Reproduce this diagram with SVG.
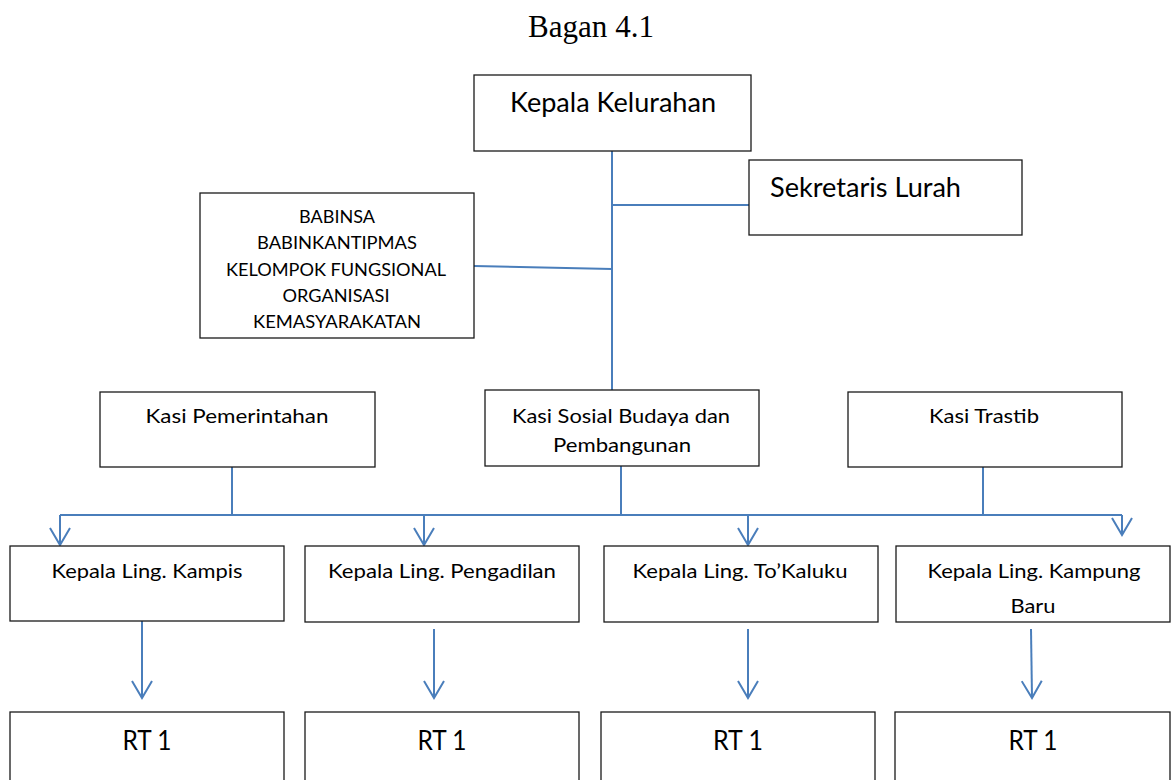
<svg xmlns="http://www.w3.org/2000/svg" width="1171" height="780" viewBox="0 0 1171 780">
<style>
.box{fill:#fff;stroke:#1a1a1a;stroke-width:1.3}
.t{font-family:Lato,"Liberation Sans",sans-serif;fill:#000;text-anchor:middle}
.lg{font-size:26px}
.md{font-size:19px}
.sm{font-size:16.5px}
.con{fill:none;stroke:#4a7ebb;stroke-width:2}
</style>
<defs>
<marker id="arr" markerUnits="userSpaceOnUse" viewBox="0 0 20 22" refX="18" refY="11" markerWidth="20" markerHeight="22" orient="auto">
<path d="M1,1 L18,11 L1,21" fill="none" stroke="#4a7ebb" stroke-width="2"/>
</marker>
</defs>
<rect width="1171" height="780" fill="#fff"/>
<text x="591" y="37" font-family="Liberation Serif,serif" font-size="31" text-anchor="middle" textLength="126" lengthAdjust="spacingAndGlyphs">Bagan 4.1</text>

<g id="connectors">
<path class="con" d="M612 151 V390"/>
<path class="con" d="M612 205 H749"/>
<path class="con" d="M474 266 L612 269"/>
<path class="con" d="M232 467 V515"/>
<path class="con" d="M621 466 V515"/>
<path class="con" d="M983 467 V515"/>
<path class="con" d="M60 515 H1122"/>
<path class="con" d="M60 515 V545" marker-end="url(#arr)"/>
<path class="con" d="M424 515 V545" marker-end="url(#arr)"/>
<path class="con" d="M748 515 V545" marker-end="url(#arr)"/>
<path class="con" d="M1122 515 V535" marker-end="url(#arr)"/>
<path class="con" d="M142 621 V698" marker-end="url(#arr)"/>
<path class="con" d="M434 629 V698" marker-end="url(#arr)"/>
<path class="con" d="M748 629 V698" marker-end="url(#arr)"/>
<path class="con" d="M1031 629 L1032 698" marker-end="url(#arr)"/>
</g>

<g id="kepala-kelurahan">
<rect class="box" x="474" y="75" width="277" height="76"/>
<text class="t lg" x="613" y="112" textLength="206" lengthAdjust="spacingAndGlyphs">Kepala Kelurahan</text>
</g>
<g id="sekretaris-lurah">
<rect class="box" x="749" y="160" width="273" height="75"/>
<text class="t lg" x="770" y="197" style="text-anchor:start" textLength="191" lengthAdjust="spacingAndGlyphs">Sekretaris Lurah</text>
</g>
<g id="babinsa">
<rect class="box" x="200" y="193" width="274" height="145"/>
<text class="t sm" x="337" y="223" textLength="76" lengthAdjust="spacingAndGlyphs">BABINSA</text>
<text class="t sm" x="337" y="249" textLength="160" lengthAdjust="spacingAndGlyphs">BABINKANTIPMAS</text>
<text class="t sm" x="336" y="276" textLength="220" lengthAdjust="spacingAndGlyphs">KELOMPOK FUNGSIONAL</text>
<text class="t sm" x="336" y="302" textLength="107" lengthAdjust="spacingAndGlyphs">ORGANISASI</text>
<text class="t sm" x="337" y="328" textLength="168" lengthAdjust="spacingAndGlyphs">KEMASYARAKATAN</text>
</g>
<g id="kasi-pemerintahan">
<rect class="box" x="100" y="392" width="275" height="75"/>
<text class="t md" x="237" y="423" textLength="183" lengthAdjust="spacingAndGlyphs">Kasi Pemerintahan</text>
</g>
<g id="kasi-sosial">
<rect class="box" x="485" y="390" width="274" height="76"/>
<text class="t md" x="621" y="423" textLength="218" lengthAdjust="spacingAndGlyphs">Kasi Sosial Budaya dan</text>
<text class="t md" x="622" y="452" textLength="138" lengthAdjust="spacingAndGlyphs">Pembangunan</text>
</g>
<g id="kasi-trastib">
<rect class="box" x="848" y="392" width="274" height="75"/>
<text class="t md" x="984" y="423" textLength="110" lengthAdjust="spacingAndGlyphs">Kasi Trastib</text>
</g>
<g id="ling-kampis">
<rect class="box" x="10" y="546" width="274" height="75"/>
<text class="t md" x="147" y="578" textLength="191" lengthAdjust="spacingAndGlyphs">Kepala Ling. Kampis</text>
</g>
<g id="ling-pengadilan">
<rect class="box" x="305" y="546" width="274" height="76"/>
<text class="t md" x="442" y="578" textLength="228" lengthAdjust="spacingAndGlyphs">Kepala Ling. Pengadilan</text>
</g>
<g id="ling-tokaluku">
<rect class="box" x="604" y="546" width="274" height="76"/>
<text class="t md" x="740" y="578" textLength="215" lengthAdjust="spacingAndGlyphs">Kepala Ling. To’Kaluku</text>
</g>
<g id="ling-kampung-baru">
<rect class="box" x="896" y="546" width="274" height="76"/>
<text class="t md" x="1034" y="578" textLength="213" lengthAdjust="spacingAndGlyphs">Kepala Ling. Kampung</text>
<text class="t md" x="1033" y="613" textLength="45" lengthAdjust="spacingAndGlyphs">Baru</text>
</g>
<g id="rt-1-a">
<rect class="box" x="10" y="712" width="274" height="80"/>
<text class="t lg" x="147" y="750" textLength="49" lengthAdjust="spacingAndGlyphs">RT 1</text>
</g>
<g id="rt-1-b">
<rect class="box" x="305" y="712" width="274" height="80"/>
<text class="t lg" x="442" y="750" textLength="49" lengthAdjust="spacingAndGlyphs">RT 1</text>
</g>
<g id="rt-1-c">
<rect class="box" x="601" y="712" width="274" height="80"/>
<text class="t lg" x="738" y="750" textLength="50" lengthAdjust="spacingAndGlyphs">RT 1</text>
</g>
<g id="rt-1-d">
<rect class="box" x="895" y="712" width="275" height="80"/>
<text class="t lg" x="1033" y="750" textLength="49" lengthAdjust="spacingAndGlyphs">RT 1</text>
</g>
</svg>
